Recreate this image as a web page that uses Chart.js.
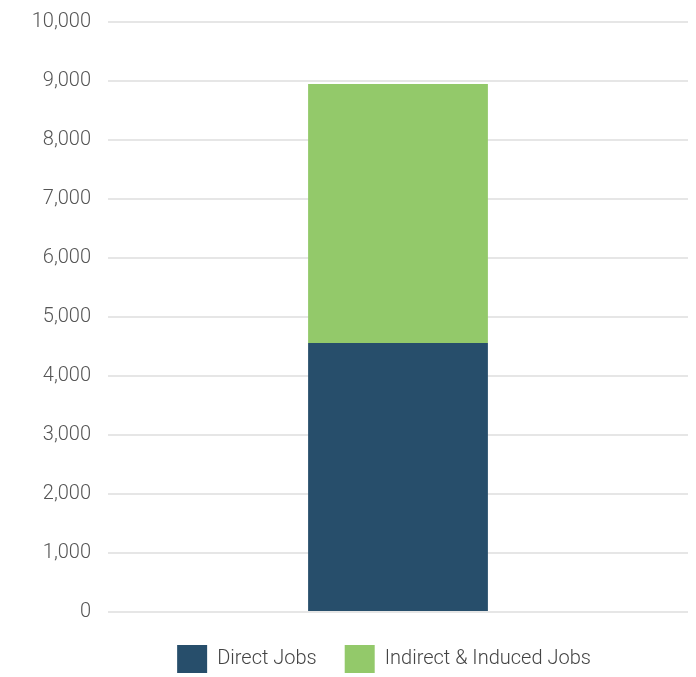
<!DOCTYPE html>
<html>
<head>
<meta charset="utf-8">
<script src="https://cdn.jsdelivr.net/npm/chart.js@4"></script>
<style>
    html, body { margin: 0; padding: 0; background: #fff; }
    #wrap { width: 696px; height: 677px; }
</style>
</head>
<body>
<div id="wrap"><canvas id="jobsChart"></canvas></div>
<script>
// ------------------- Dane -------------------
const categories = ['Jobs'];
const directJobs = [4560];
const indirectJobs = [4390];
const yTicks = [0, 1000, 2000, 3000, 4000, 5000, 6000, 7000, 8000, 9000, 10000];

const fontFamily = 'Roboto, "DejaVu Sans", sans-serif';
const fontWeight = '300';

// ------------------- Przesunięcie legendy -------------------
const legendShift = {
    id: 'legendShift',
    beforeInit(chart) {
        const legend = chart.legend;
        if (!legend) return;
        const origFit = legend.fit;
        legend.fit = function () {
            origFit.call(this);
            this.height -= 1;
        };
    },
    afterLayout(chart) {
        const legend = chart.legend;
        if (!legend) return;
        legend.top += 5;
        legend.bottom += 5;
        legend.left += 40;
        legend.right += 40;
    }
};

// ------------------- Wykres -------------------
const ctx = document.getElementById('jobsChart');
const jobsChart = new Chart(ctx, {
    type: 'bar',
    data: {
        labels: categories,
        datasets: [
            { label: 'Direct Jobs', data: directJobs, backgroundColor: '#274e6b', barPercentage: 0.31, categoryPercentage: 1 },
            { label: 'Indirect & Induced Jobs', data: indirectJobs, backgroundColor: '#93c96a', barPercentage: 0.31, categoryPercentage: 1 }
        ]
    },
    plugins: [legendShift],
    options: {
        responsive: true,
        maintainAspectRatio: false,
        animation: false,
        layout: { padding: { top: 22, right: 8, left: 0, bottom: 0 } },
        plugins: {
            tooltip: { enabled: false },
            legend: {
                position: 'bottom',
                labels: {
                    boxWidth: 30,
                    boxHeight: 28,
                    padding: 28,
                    color: '#444',
                    font: { family: fontFamily, size: 20, weight: fontWeight }
                }
            }
        },
        scales: {
            x: {
                stacked: true,
                display: false
            },
            y: {
                stacked: true,
                min: 0,
                max: 10000,
                afterBuildTicks: scale => { scale.ticks = yTicks.map(v => ({ value: v })); },
                afterFit: scale => {
                    scale.width = 108;
                    scale.paddingTop = 0;
                    scale.paddingBottom = 0;
                },
                border: { display: false },
                grid: { color: '#e6e6e6', lineWidth: 2, drawTicks: false },
                ticks: {
                    padding: 17,
                    color: '#555',
                    font: { family: fontFamily, size: 20, weight: fontWeight },
                    callback: v => v.toLocaleString('en-US')
                }
            }
        }
    }
});
</script>
</body>
</html>
